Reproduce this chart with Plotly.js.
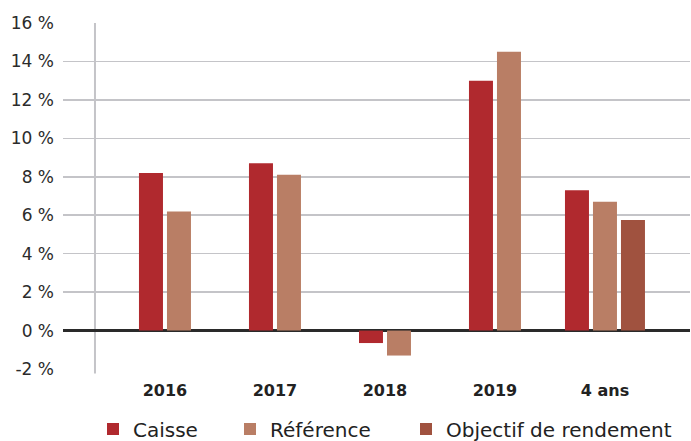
<!DOCTYPE html>
<html>
<head>
<meta charset="utf-8">
<script src="https://cdn.plot.ly/plotly-3.0.1.min.js"></script>
<style>html,body{margin:0;padding:0;background:#fff;}#chart{width:691px;height:441px;}</style>
</head>
<body>
<div id="chart"></div>
<script>
const categories = ['2016', '2017', '2018', '2019', '4 ans'];
const caisse = [8.2, 8.7, -0.65, 13.0, 7.3];
const reference = [6.2, 8.1, -1.3, 14.5, 6.7];
const objectif = [null, null, null, null, 5.75];
const yTickVals = [-2, 0, 2, 4, 6, 8, 10, 12, 14, 16];
const yTickText = ['-2 %', '0 %', '2 %', '4 %', '6 %', '8 %', '10 %', '12 %', '14 %', '16 %'];

// Layout of bars inside each category (in category units; one category = 110 px)
const unit = 110;
const barW = 24 / unit, gap = 4 / unit;
const series = [caisse, reference, objectif];
// number of bars present in each category -> bars are centred on the category
const nPresent = categories.map((c, i) => series.filter(s => s[i] !== null && s[i] !== undefined).length);
function offsetsFor(k) {
  return categories.map((c, i) => {
    const n = nPresent[i];
    const total = n * barW + (n - 1) * gap;
    return -total / 2 + k * (barW + gap);
  });
}

const font = 'DejaVu Sans, Open Sans, sans-serif';
const colors = ['#b0292e', '#b97e65', '#a0523f'];
const names = ['Caisse', 'Référence', 'Objectif de rendement'];
const legendIds = ['legend', 'legend2', 'legend3'];
const traces = series.map((s, k) => ({
  type: 'bar', name: names[k], x: categories, y: s,
  offset: offsetsFor(k), width: barW,
  marker: {color: colors[k], line: {width: 0}},
  legend: legendIds[k], hoverinfo: 'skip'
}));

function legendAt(xpx) {
  return {orientation: 'h', xref: 'container', yref: 'container', x: xpx / 691, y: 1 - 429 / 441,
          xanchor: 'left', yanchor: 'middle', bgcolor: 'rgba(0,0,0,0)',
          font: {size: 20, color: '#222', family: font}};
}

const layout = {
  width: 691, height: 441,
  margin: {l: 63, r: 1, t: 23, b: 72},
  paper_bgcolor: '#ffffff', plot_bgcolor: '#ffffff',
  font: {family: font, color: '#2b2b2b'},
  barmode: 'overlay',
  showlegend: true,
  legend: legendAt(93),
  legend2: legendAt(230),
  legend3: legendAt(406),
  xaxis: {type: 'category', range: [-0.927, 4.773], showgrid: false, zeroline: false, showline: false, ticks: '',
          ticklabelstandoff: 10, tickfont: {size: 16, color: '#222', family: font, weight: 'bold'}},
  yaxis: {range: [-2, 16], tickmode: 'array', tickvals: yTickVals, ticktext: yTickText,
          showgrid: true, gridcolor: '#c4c4c8', gridwidth: 1.6,
          zeroline: true, zerolinecolor: '#2a2a2a', zerolinewidth: 2.4,
          showline: false, ticks: '', ticklabelstandoff: 8,
          tickfont: {size: 17, color: '#2b2b2b', family: font}},
  shapes: [{type: 'line', xref: 'paper', yref: 'paper', x0: 0.051, x1: 0.051, y0: -0.013, y1: 1, line: {color: '#c4c4c8', width: 2}, layer: 'below'}]
};
Plotly.newPlot('chart', traces, layout, {displayModeBar: false, staticPlot: true});
</script>
</body>
</html>
